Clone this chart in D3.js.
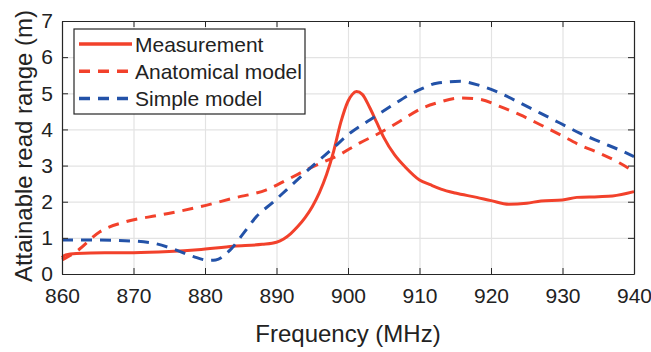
<!DOCTYPE html>
<html>
<head>
<meta charset="utf-8">
<script src="https://cdn.jsdelivr.net/npm/d3@7"></script>
<style>
  body { margin: 0; background: #fff; }
  svg { display: block; font-family: "Liberation Sans", Arial, sans-serif; }
  .grid line { stroke: #e3e3e3; stroke-width: 1.2; }
  .grid path { display: none; }
</style>
</head>
<body>
<div id="chart"></div>
<script>
// Measured read range
const measFreq = [860, 860.5, 862, 866, 870, 875, 879, 884, 888, 890, 891, 892, 893, 894, 895, 896, 897, 898, 899, 900,
  900.6, 901.2, 902, 903, 904, 905, 906.5, 908, 910, 911.5, 913, 915, 918, 920, 922.5, 925, 927, 930, 932, 935, 937, 940];
const measRange = [0.45, 0.53, 0.57, 0.59, 0.59, 0.62, 0.67, 0.77, 0.82, 0.88, 0.97, 1.12, 1.32, 1.56, 1.86, 2.25, 2.75, 3.4, 4.2, 4.78,
  4.97, 5.05, 4.97, 4.62, 4.2, 3.78, 3.3, 2.96, 2.6, 2.47, 2.35, 2.24, 2.12, 2.03, 1.93, 1.96, 2.02, 2.05, 2.12, 2.14, 2.16, 2.28];

// Anatomical model
const anatFreq = [860, 862, 865.3, 869, 873.7, 879.3, 884, 888.6, 891.4, 895.1, 898.8, 901.6, 904.4, 907.2, 910.5,
  912.4, 915.7, 918.5, 921.3, 924.1, 926.9, 929.7, 932.4, 935.2, 938, 940];
const anatRange = [0.39, 0.62, 1.17, 1.45, 1.63, 1.86, 2.1, 2.33, 2.6, 2.97, 3.3, 3.62, 3.9, 4.22, 4.6,
  4.73, 4.87, 4.83, 4.63, 4.4, 4.13, 3.85, 3.57, 3.34, 3.07, 2.83];

// Simple model
const simpFreq = [860, 864, 867.6, 872.3, 876, 878.4, 880.5, 881.5, 883.5, 885.4, 887.2, 889.6, 891.4, 893.7, 895.8,
  897.9, 900.3, 903.1, 906.3, 908.5, 910.5, 912.4, 915.7, 918.5, 921.3, 924.1, 926.9, 929.7, 932.4, 935.2, 938, 940];
const simpRange = [0.94, 0.94, 0.93, 0.87, 0.66, 0.48, 0.38, 0.39, 0.66, 1.13, 1.59, 2.0, 2.33, 2.75, 3.12,
  3.48, 3.9, 4.27, 4.68, 4.95, 5.14, 5.28, 5.33, 5.21, 5.0, 4.73, 4.45, 4.17, 3.9, 3.66, 3.43, 3.25];

const xTicks = [860, 870, 880, 890, 900, 910, 920, 930, 940];
const yTicks = [0, 1, 2, 3, 4, 5, 6, 7];

const series = [
  { name: "Measurement", freq: measFreq, range: measRange, color: "#f2412b", dash: null },
  { name: "Anatomical model", freq: anatFreq, range: anatRange, color: "#f2412b", dash: "11,8" },
  { name: "Simple model", freq: simpFreq, range: simpRange, color: "#2352a8", dash: "11,8" }
];

const width = 651, height = 352;
const margin = { top: 21, right: 17, bottom: 78, left: 62 };

const svg = d3.select("#chart").append("svg")
  .attr("width", width)
  .attr("height", height);

const x = d3.scaleLinear().domain([860, 940]).range([margin.left, width - margin.right]);
const y = d3.scaleLinear().domain([0, 7]).range([height - margin.bottom, margin.top]);

// gridlines
svg.append("g")
  .attr("class", "grid")
  .attr("transform", `translate(0,${y(0)})`)
  .call(d3.axisBottom(x).tickValues(xTicks).tickFormat("").tickSize(-(y(0) - y(7))));
svg.append("g")
  .attr("class", "grid")
  .attr("transform", `translate(${x(860)},0)`)
  .call(d3.axisLeft(y).tickValues(yTicks).tickFormat("").tickSize(-(x(940) - x(860))));

// lines
const line = d3.line()
  .x(d => x(d[0]))
  .y(d => y(d[1]))
  .curve(d3.curveMonotoneX);

svg.append("g").selectAll("path")
  .data(series)
  .join("path")
  .attr("d", s => line(s.freq.map((f, i) => [f, s.range[i]])))
  .attr("fill", "none")
  .attr("stroke", s => s.color)
  .attr("stroke-width", 3)
  .attr("stroke-dasharray", s => s.dash);

// axes box with inner ticks
const axisColor = "#262626";
const xAxis = svg.append("g")
  .attr("transform", `translate(0,${y(0)})`)
  .call(d3.axisBottom(x).tickValues(xTicks).tickFormat(d3.format("d"))
    .tickSizeInner(-6).tickSizeOuter(0).tickPadding(14));
const yAxis = svg.append("g")
  .attr("transform", `translate(${x(860)},0)`)
  .call(d3.axisLeft(y).tickValues(yTicks).tickFormat(d3.format("d"))
    .tickSizeInner(-6).tickSizeOuter(0).tickPadding(9));
svg.append("g")
  .attr("transform", `translate(0,${y(7)})`)
  .call(d3.axisTop(x).tickValues(xTicks).tickFormat("").tickSizeInner(-6).tickSizeOuter(0));
svg.append("g")
  .attr("transform", `translate(${x(940)},0)`)
  .call(d3.axisRight(y).tickValues(yTicks).tickFormat("").tickSizeInner(-6).tickSizeOuter(0));

svg.selectAll(".domain, .tick line").attr("stroke", axisColor);
svg.selectAll(".domain").attr("stroke-width", 1.2);
xAxis.selectAll("text").attr("font-size", 21).attr("fill", "#222").attr("font-family", "Liberation Sans");
yAxis.selectAll("text").attr("font-size", 21).attr("fill", "#222").attr("font-family", "Liberation Sans");

// axis labels
svg.append("text")
  .attr("x", (x(860) + x(940)) / 2)
  .attr("y", 342)
  .attr("text-anchor", "middle")
  .attr("font-size", 24)
  .attr("fill", "#222")
  .text("Frequency (MHz)");

svg.append("text")
  .attr("transform", "translate(32,146) rotate(-90)")
  .attr("text-anchor", "middle")
  .attr("font-size", 24)
  .attr("fill", "#222")
  .text("Attainable read range (m)");

// legend
const legend = svg.append("g");
legend.append("rect")
  .attr("x", 74).attr("y", 29)
  .attr("width", 231).attr("height", 85)
  .attr("fill", "#fff")
  .attr("stroke", axisColor)
  .attr("stroke-width", 1.2);

series.forEach((s, i) => {
  const ly = 44 + i * 27.2;
  legend.append("line")
    .attr("x1", 79).attr("x2", 132)
    .attr("y1", ly).attr("y2", ly)
    .attr("stroke", s.color)
    .attr("stroke-width", 3.5)
    .attr("stroke-dasharray", s.dash);
  legend.append("text")
    .attr("x", 135).attr("y", ly + 7.5)
    .attr("font-size", 21)
    .attr("fill", "#222")
    .text(s.name);
});
</script>
</body>
</html>
